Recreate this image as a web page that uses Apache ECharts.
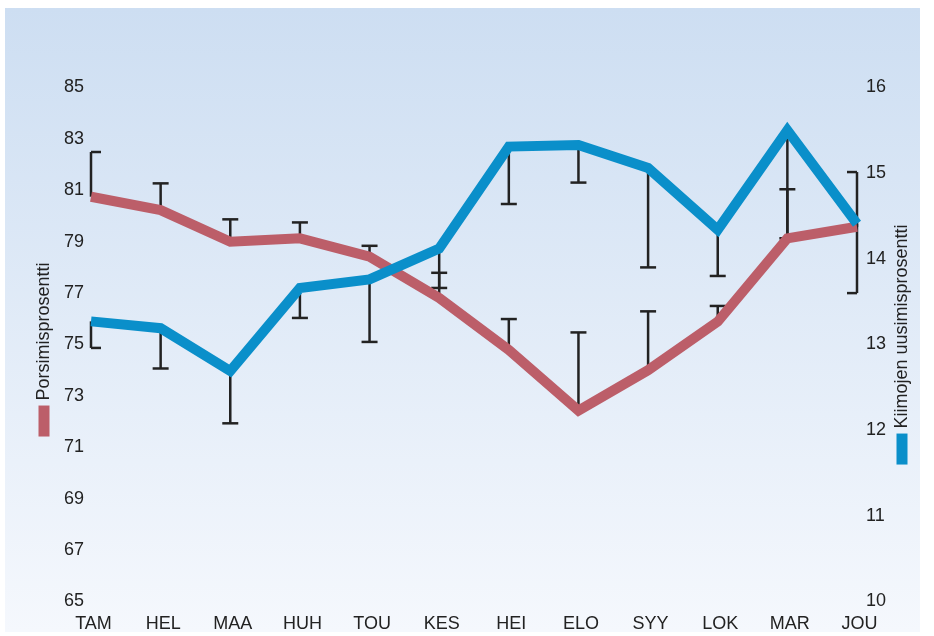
<!DOCTYPE html>
<html>
<head>
<meta charset="utf-8">
<script src="https://cdn.jsdelivr.net/npm/echarts@6/dist/echarts.min.js"></script>
<style>
  html, body { margin: 0; padding: 0; background: #ffffff; }
  #chart { width: 934px; height: 636px; }
</style>
</head>
<body>
<div id="chart"></div>
<script>
// Kuukaudet (x-akseli)
const kuukaudet = ['TAM', 'HEL', 'MAA', 'HUH', 'TOU', 'KES', 'HEI', 'ELO', 'SYY', 'LOK', 'MAR', 'JOU'];

// Porsimisprosentti (%), vasen akseli, ja hajonnan yläraja
const porsimisprosentti = [80.75, 80.23, 79.0, 79.13, 78.42, 76.81, 74.79, 72.43, 74.0, 75.89, 79.13, 79.58];
const porsimisYlaraja   = [82.49, 81.27, 79.87, 79.75, 78.84, 77.79, 75.99, 75.47, 76.29, 76.5, 81.04, 81.71];

// Kiimojen uusimisprosentti (%), oikea akseli, ja hajonnan alaraja
const uusimisprosentti = [13.27, 13.19, 12.69, 13.66, 13.76, 14.12, 15.31, 15.33, 15.06, 14.34, 15.5, 14.41];
const uusimisAlaraja   = [12.96, 12.72, 12.08, 13.31, 13.03, 13.66, 14.64, 14.89, 13.9, 13.8, 14.24, 13.6];

// Akselien asteikot
const vasenAsteikko = { min: 65, max: 85, interval: 2 };
const oikeaAsteikko = { min: 10, max: 16, interval: 1 };

const PUNAINEN = '#bc5e69';
const SININEN = '#0a8fca';
const TEKSTI = '#222222';
const FONTTI = '"Liberation Sans", Arial, Helvetica, sans-serif';
const KOKO = 18;

const chart = echarts.init(document.getElementById('chart'));

// Yksipuolinen virhejana: pystyviiva keskiarvosta rajaan ja poikkiviiva rajalla
function virhejana(params, api) {
  const i = api.value(0);
  const alku = api.coord([i, api.value(1)]);
  const loppu = api.coord([i, api.value(2)]);
  const viimeinen = kuukaudet.length - 1;
  const vasen = i === viimeinen ? 10 : (i === 0 ? 0 : 8);
  const oikea = i === 0 ? 10 : (i === viimeinen ? 0 : 8);
  const tyyli = { stroke: TEKSTI, lineWidth: 2.5, fill: null };
  return {
    type: 'group',
    children: [
      { type: 'line', shape: { x1: alku[0], y1: alku[1], x2: loppu[0], y2: loppu[1] }, style: tyyli },
      { type: 'line', shape: { x1: loppu[0] - vasen, y1: loppu[1], x2: loppu[0] + oikea, y2: loppu[1] }, style: tyyli }
    ]
  };
}

const akselinNimi = (vari) => ({
  fontSize: KOKO,
  color: TEKSTI,
  fontFamily: FONTTI,
  rich: {
    sw: { width: 31, height: 11, backgroundColor: vari },
    t: { fontSize: KOKO, color: TEKSTI, fontFamily: FONTTI },
    e: { width: 10, height: 1 }
  }
});

chart.setOption({
  animation: false,
  backgroundColor: '#ffffff',
  textStyle: { fontFamily: FONTTI },
  graphic: [{
    type: 'rect',
    z: -100,
    silent: true,
    shape: { x: 5, y: 8, width: 915, height: 624 },
    style: {
      fill: new echarts.graphic.LinearGradient(0, 0, 0, 1, [
        { offset: 0, color: '#cddef2' },
        { offset: 1, color: '#f5f8fd' }
      ])
    }
  }],
  grid: { left: 91, right: 77, top: 87.5, bottom: 34.5, containLabel: false, outerBoundsMode: 'none' },
  xAxis: {
    type: 'category',
    data: kuukaudet,
    boundaryGap: false,
    axisLine: { show: false },
    axisTick: { show: false },
    splitLine: { show: false },
    axisLabel: { color: TEKSTI, fontSize: KOKO, fontFamily: FONTTI, margin: 14, interval: 0, padding: [0, 0, 0, 5] }
  },
  yAxis: [{
    type: 'value',
    position: 'left',
    min: vasenAsteikko.min, max: vasenAsteikko.max, interval: vasenAsteikko.interval,
    axisLine: { show: false }, axisTick: { show: false }, splitLine: { show: false },
    axisLabel: { color: TEKSTI, fontSize: KOKO, fontFamily: FONTTI, margin: 7 },
    name: '{sw|} {t|Porsimisprosentti}{e|}',
    nameLocation: 'middle',
    nameRotate: 90,
    nameGap: 38,
    nameMoveOverlap: false,
    nameTextStyle: akselinNimi(PUNAINEN)
  }, {
    type: 'value',
    position: 'right',
    min: oikeaAsteikko.min, max: oikeaAsteikko.max, interval: oikeaAsteikko.interval,
    axisLine: { show: false }, axisTick: { show: false }, splitLine: { show: false },
    axisLabel: { color: TEKSTI, fontSize: KOKO, fontFamily: FONTTI, margin: 9 },
    name: '{sw|} {t|Kiimojen uusimisprosentti}',
    nameLocation: 'middle',
    nameRotate: 90,
    nameGap: 36,
    nameMoveOverlap: false,
    nameTextStyle: akselinNimi(SININEN)
  }],
  series: [{
    name: 'Porsimisprosentin hajonta',
    type: 'custom',
    yAxisIndex: 0,
    z: 1,
    renderItem: virhejana,
    encode: { x: 0, y: [1, 2] },
    data: porsimisprosentti.map((v, i) => [i, v, porsimisYlaraja[i]])
  }, {
    name: 'Uusimisprosentin hajonta',
    type: 'custom',
    yAxisIndex: 1,
    z: 1,
    renderItem: virhejana,
    encode: { x: 0, y: [1, 2] },
    data: uusimisprosentti.map((v, i) => [i, v, uusimisAlaraja[i]])
  }, {
    name: 'Porsimisprosentti',
    type: 'line',
    yAxisIndex: 0,
    z: 3,
    data: porsimisprosentti,
    symbol: 'none',
    clip: false,
    lineStyle: { color: PUNAINEN, width: 10, join: 'miter', cap: 'butt' }
  }, {
    name: 'Kiimojen uusimisprosentti',
    type: 'line',
    yAxisIndex: 1,
    z: 4,
    data: uusimisprosentti,
    symbol: 'none',
    clip: false,
    lineStyle: { color: SININEN, width: 10, join: 'miter', cap: 'butt' }
  }]
});
</script>
</body>
</html>
